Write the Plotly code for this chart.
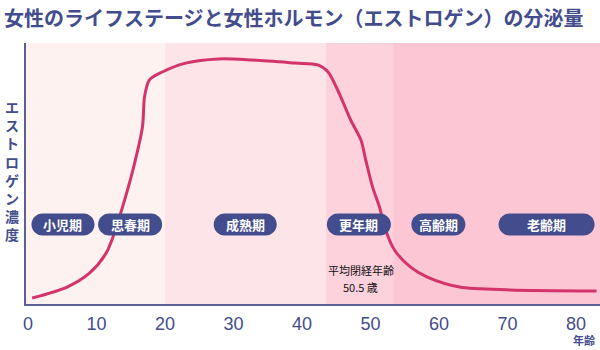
import plotly.graph_objects as go

# ---- data ----
title_text = "女性のライフステージと女性ホルモン（エストロゲン）の分泌量"
y_label = "エストロゲン濃度"
x_label = "年齢"
ages = [0.6, 5.7, 9.0, 11.4, 12.6, 13.8, 15.2, 16.7, 17.0, 17.7, 19.6, 23.0, 27.8, 32.6,
        39.0, 42.3, 43.8, 45.2, 47.1, 48.6, 49.3, 50.3, 51.3, 52.2, 53.5, 55.8, 58.3,
        63.0, 70.3, 83.0]
estrogen = [2.3, 6.5, 11.9, 19.5, 27.2, 37.2, 50.2, 67.8, 79.3, 85.8, 88.9, 92.3, 93.9, 93.5,
            92.3, 91.6, 88.9, 82.0, 70.5, 62.8, 55.2, 44.8, 37.2, 28.4, 20.7, 14.2, 10.3,
            6.5, 5.4, 5.0]
band_edges = [-0.3, 20.0, 43.5, 53.3, 83.5]
band_colors = ["#fdf2ef", "#fde4e8", "#fdd2dd", "#fdc6d5"]
stage_names = ["小児期", "思春期", "成熟期", "更年期", "高齢期", "老齢期"]
stage_centers = [5.1, 14.9, 31.7, 48.3, 59.9, 75.7]
stage_widths = [63, 64, 63, 64, 54, 96]
stage_y = 30.5
tick_vals = [0, 10, 20, 30, 40, 50, 60, 70, 80]
menopause_x = 48.6
menopause_lines = ["平均閉経年齢", "50.5 歳"]

NAVY = "#434c8c"
AXIS = "#5e5f96"
FONT = "Noto Sans CJK JP"

# plot area geometry (pixels)
L, T, W, H = 26, 43, 574, 261

fig = go.Figure()

shapes = []
for i, c in enumerate(band_colors):
    shapes.append(dict(type="rect", xref="x", yref="paper", x0=band_edges[i], x1=band_edges[i + 1],
                       y0=0, y1=1, fillcolor=c, line_width=0, layer="below"))


def pill_path(w, h):
    r = h / 2
    a = w / 2 - r
    k = 0.5523 * r
    return (f"M {-a},{-r} L {a},{-r} C {a + k},{-r} {a + r},{-k} {a + r},0 "
            f"C {a + r},{k} {a + k},{r} {a},{r} L {-a},{r} "
            f"C {-a - k},{r} {-a - r},{k} {-a - r},0 C {-a - r},{-k} {-a - k},{-r} {-a},{-r} Z")


fig.add_trace(go.Scatter(x=ages, y=estrogen, mode="lines",
                         line=dict(color="#d3346b", width=3, shape="spline", smoothing=0.8),
                         hoverinfo="skip", showlegend=False))

for name, cx, w in zip(stage_names, stage_centers, stage_widths):
    shapes.append(dict(type="path", xref="x", yref="y", xsizemode="pixel", ysizemode="pixel",
                       xanchor=cx, yanchor=stage_y, path=pill_path(w, 22),
                       fillcolor=NAVY, line_width=0, layer="above"))

annotations = []
for name, cx in zip(stage_names, stage_centers):
    annotations.append(dict(x=cx, y=stage_y, xref="x", yref="y", text=f"<b>{name}</b>", showarrow=False,
                            font=dict(color="white", size=13, family=FONT)))


def px_x(p):
    return (p - L) / W


def px_y(p):
    return (T + H - p) / H


for i, line in enumerate(menopause_lines):
    annotations.append(dict(x=menopause_x, y=px_y(270 + i * 17), xref="x", yref="paper", text=line,
                            showarrow=False, yanchor="middle",
                            font=dict(color="#111111", size=11, family=FONT)))

annotations.append(dict(xref="paper", yref="paper", x=px_x(2), y=px_y(17), xanchor="left", yanchor="middle",
                        text=f"<b>{title_text}</b>", showarrow=False,
                        font=dict(color=NAVY, size=20, family=FONT)))
annotations.append(dict(xref="paper", yref="paper", x=px_x(12), y=px_y(170),
                        text="<b>" + "<br>".join(list(y_label)) + "</b>", showarrow=False,
                        xanchor="center", yanchor="middle",
                        font=dict(color=NAVY, size=14, family=FONT)))
annotations.append(dict(xref="paper", yref="paper", x=px_x(597), y=px_y(350), xanchor="right", yanchor="bottom",
                        text=f"<b>{x_label}</b>", showarrow=False, font=dict(color=NAVY, size=11, family=FONT)))

fig.update_layout(
    width=600, height=350, margin=dict(l=L, r=0, t=T, b=350 - T - H),
    paper_bgcolor="white", plot_bgcolor="white",
    shapes=shapes, annotations=annotations, showlegend=False,
    xaxis=dict(range=[band_edges[0], band_edges[-1]], tickvals=tick_vals, showgrid=False, zeroline=False,
               showline=True, linecolor=AXIS, linewidth=2, ticks="", ticklabelstandoff=2,
               tickfont=dict(color=NAVY, size=18, family="Liberation Sans")),
    yaxis=dict(range=[0, 100], showticklabels=False, showgrid=False, zeroline=False,
               showline=True, linecolor=AXIS, linewidth=2, ticks=""),
)

fig.write_html("out.html")
